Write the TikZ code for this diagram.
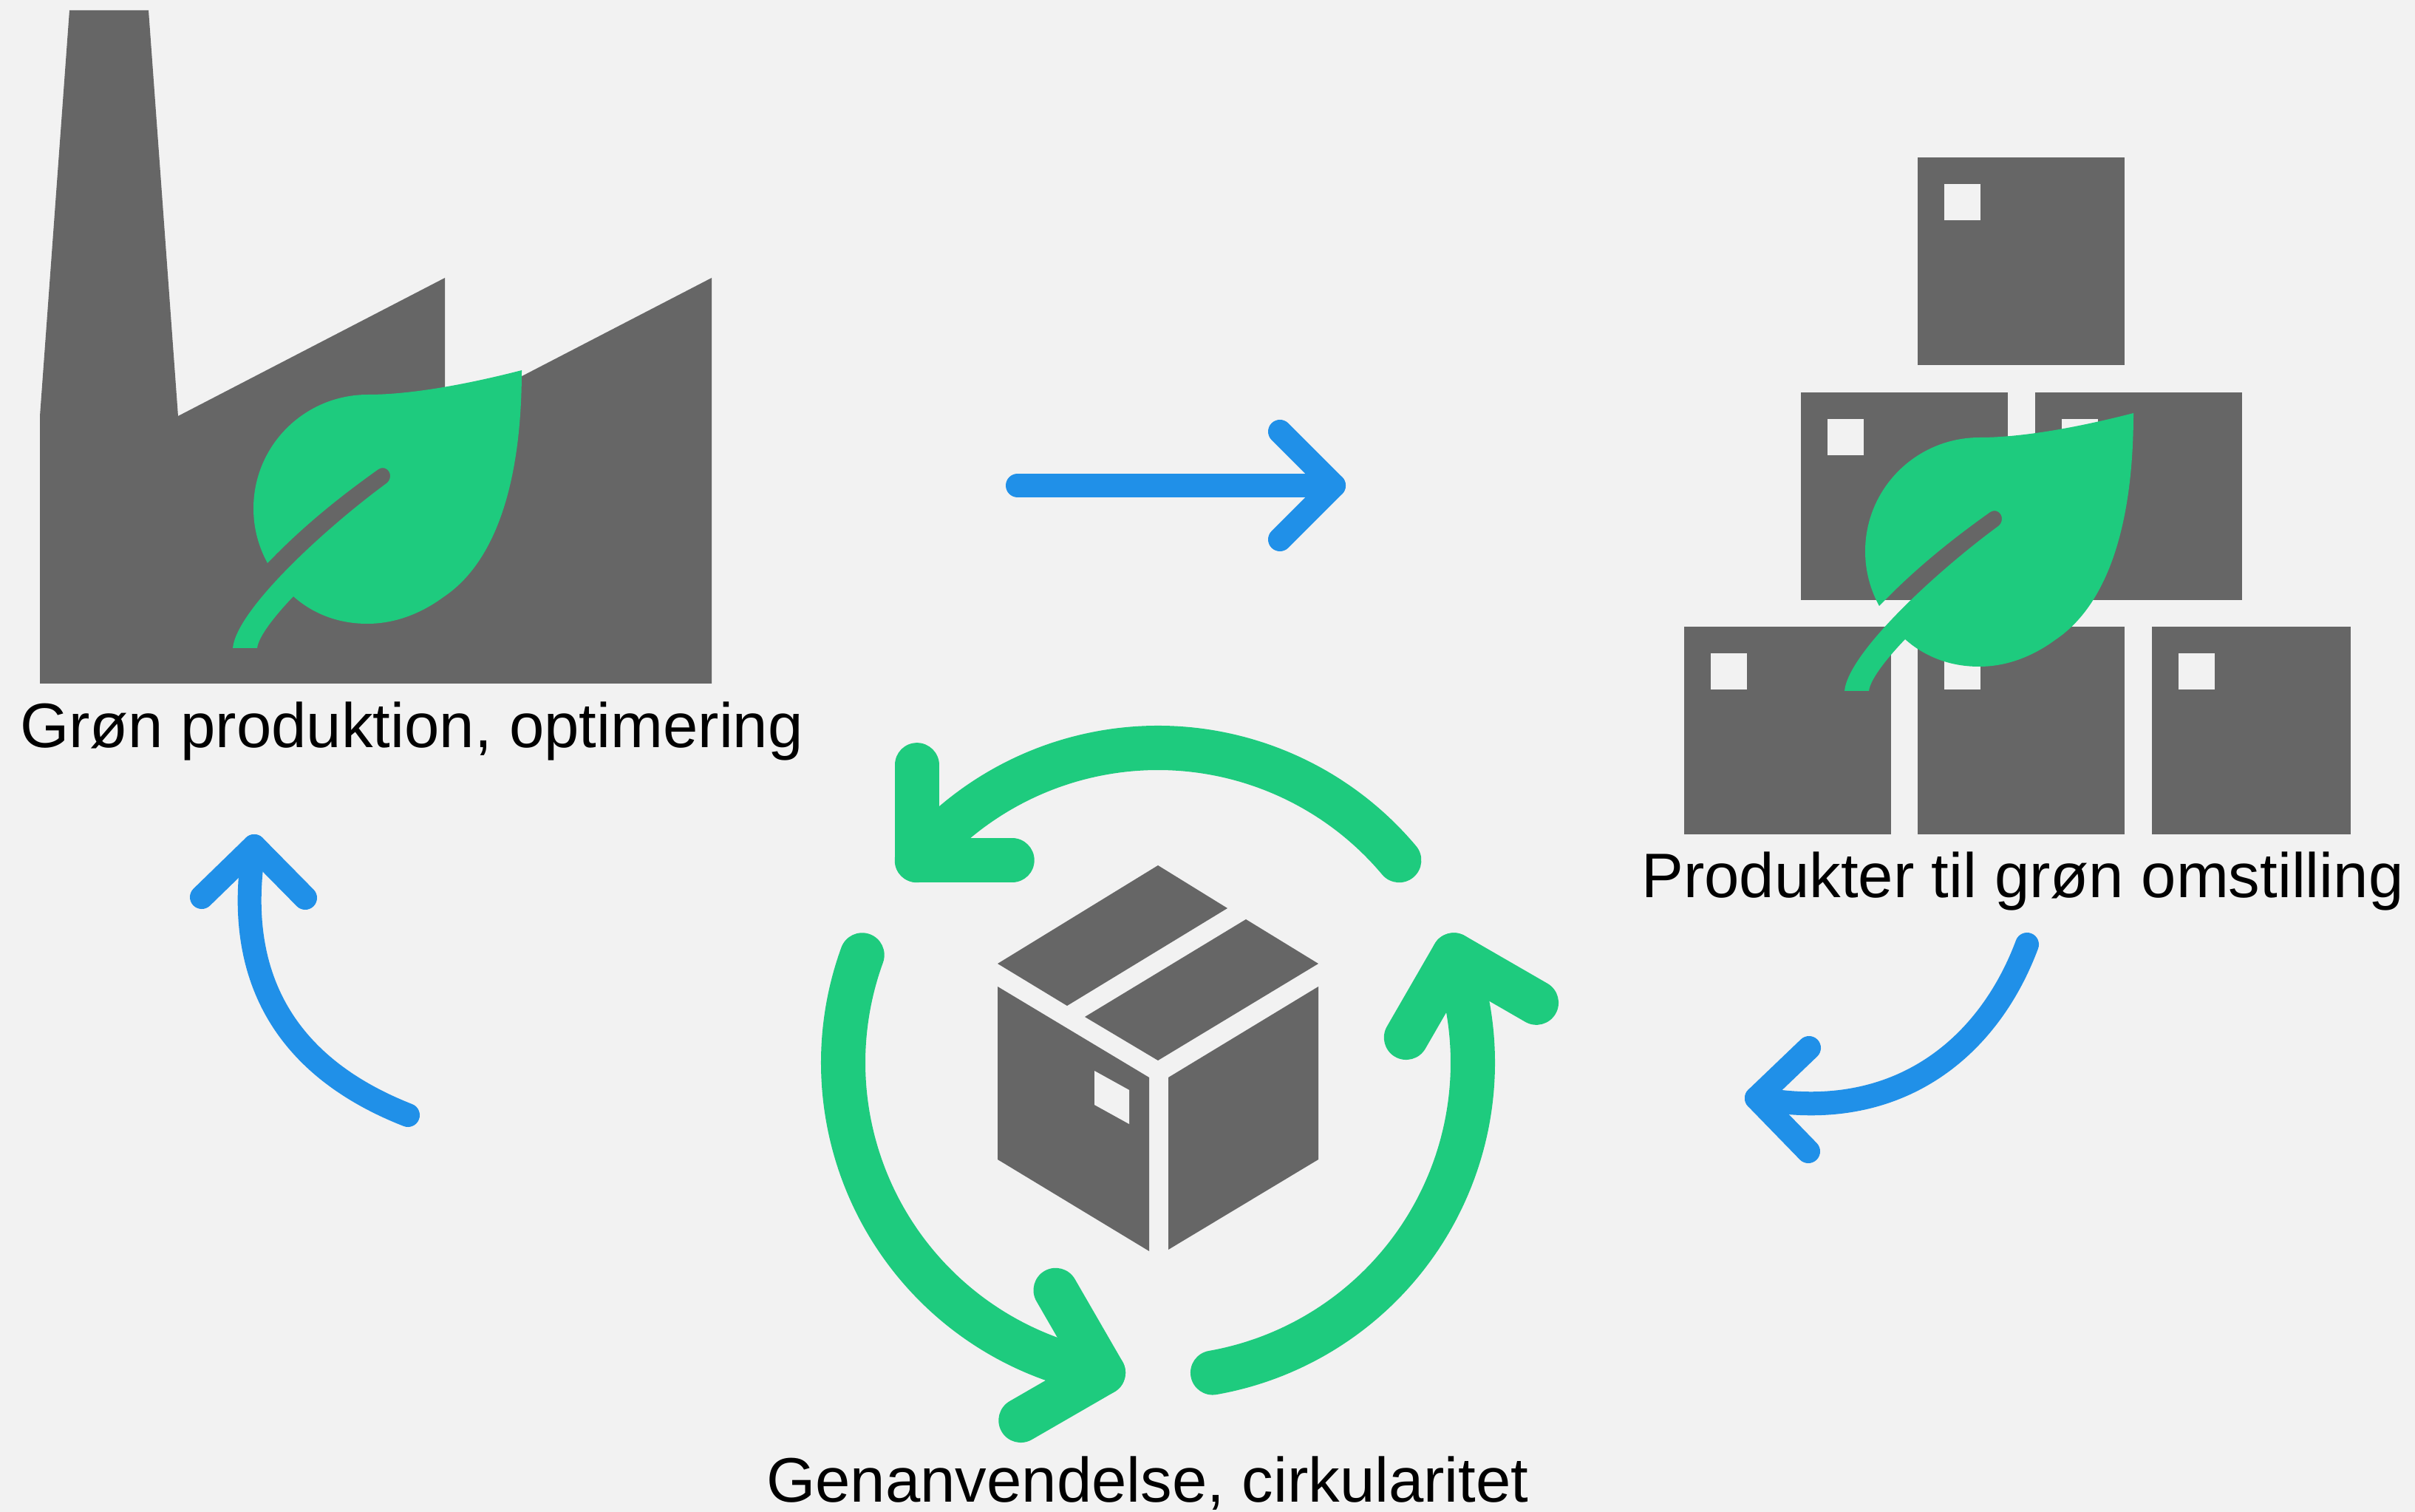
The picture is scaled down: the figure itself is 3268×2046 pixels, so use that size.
\documentclass[tikz,border=0pt]{standalone}
\usepackage{fontspec}
\setmainfont{Liberation Sans}
\usetikzlibrary{calc}
\definecolor{pagegray}{HTML}{F2F2F2}
\definecolor{icongray}{HTML}{666666}
\definecolor{leafgreen}{HTML}{1ECB7E}
\definecolor{flowblue}{HTML}{2090E8}
\tikzstyle{icon} = [fill=icongray]
\tikzstyle{hole} = [fill=pagegray]
\tikzstyle{leaf} = [fill=leafgreen]
\tikzstyle{flow} = [draw=flowblue,line width=0.32cm,line cap=round,line join=round]
\tikzstyle{cycle} = [draw=leafgreen,line width=0.6cm,line cap=round,line join=round]
\tikzstyle{caption} = [anchor=base,inner sep=0pt,font=\fontsize{24.2}{29}\selectfont]
\newcommand{\leafshape}[2]{
    \fill[leaf,shift={(#1,#2)}] (706,501) .. controls (640,518) and (560,534) .. (498,534)
        .. controls (412,534) and (343,603) .. (343,688)
        .. controls (343,715) and (350,740) .. (362,762)
        .. controls (410,712) and (460,672) .. (512,635)
        .. controls (520,630) and (528,636) .. (528,644)
        .. controls (528,648) and (526,652) .. (523,654)
        .. controls (440,715) and (320,825) .. (315,877)
        -- (348,877)
        .. controls (350,860) and (375,830) .. (397,807)
        .. controls (425,832) and (460,844) .. (497,844)
        .. controls (535,844) and (570,830) .. (600,808)
        .. controls (672,760) and (706,650) .. (706,501) -- cycle;
}
\begin{document}
\begin{tikzpicture}[x=0.01cm,y=-0.01cm]

    \fill[pagegray] (0,0) rectangle (3268,2046);
    \useasboundingbox (0,0) rectangle (3268,2046);

    % factory
    \fill[icon] (94,14) -- (201,14) -- (241,563) -- (602,376) -- (602,563) -- (963,376)
        -- (963,925) -- (54,925) -- (54,563) -- cycle;
    \leafshape{0}{0}
    \node[caption] (labelfactory) at (557,1012) {Grøn produktion, optimering};

    % stacked boxes
    \foreach \x/\y/\w in {2595/213/280, 2437/531/280, 2754/531/280, 2279/848/280, 2595/848/280, 2912/848/269} {
        \fill[icon] (\x,\y) rectangle ++(\w,281);
        \fill[hole] (\x+36,\y+36) rectangle ++(49,49);
    }
    \leafshape{2181}{58}
    \node[caption] (labelproducts) at (2737,1215) {Produkter til grøn omstilling};

    % open box
    \fill[icon] (1567,1171) -- (1661,1229) -- (1444,1361) -- (1350,1304) -- cycle;
    \fill[icon] (1686,1244) -- (1784,1304) -- (1567,1435) -- (1468,1376) -- cycle;
    \fill[icon] (1350,1335) -- (1555,1458) -- (1555,1693) -- (1350,1569) -- cycle;
    \fill[icon] (1581,1458) -- (1784,1335) -- (1784,1569) -- (1581,1691) -- cycle;
    \fill[hole] (1481,1449) -- (1528,1475) -- (1528,1521) -- (1481,1495) -- cycle;
    \node[caption] (labelrecycle) at (1553,2032) {Genanvendelse, cirkularitet};

    % three arrows round the open box
    \foreach \turn in {0,-120,120} {
        \begin{scope}[shift={(1567,1438)},y=0.01cm,rotate=\turn]
            \draw[cycle] (40:426) arc[start angle=40,end angle=140,radius=426];
            \draw[cycle] ($(140:426)+(90:129)$) -- (140:426) -- ($(140:426)+(0:129)$);
        \end{scope}
    }

    % blue arrows
    \coordinate (straightstart) at (1377,657);
    \coordinate (straighttip) at (1805,657);
    \draw[flow] (straightstart) -- (straighttip);
    \draw[flow] (1732,584) -- (straighttip) -- (1732,730);

    \coordinate (leftstart) at (552,1509);
    \coordinate (lefttip) at (344,1145);
    \draw[flow] (leftstart) .. controls (440,1465) and (307,1370) .. (lefttip);
    \draw[flow] (273,1214) -- (lefttip) -- (413,1215);

    \coordinate (rightstart) at (2743,1278);
    \coordinate (righttip) at (2377,1486);
    \draw[flow] (rightstart) .. controls (2690,1420) and (2565,1522) .. (righttip);
    \draw[flow] (2448,1418) -- (righttip) -- (2447,1558);

\end{tikzpicture}
\end{document}
